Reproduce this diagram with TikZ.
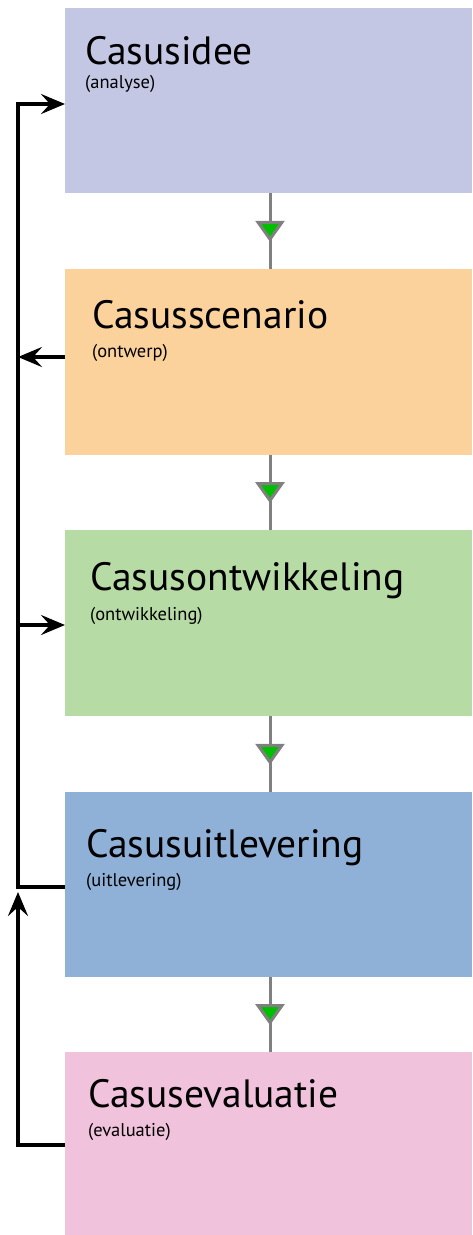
\documentclass[tikz,border=0pt]{standalone}
\usepackage{fontspec}
\setmainfont{PT Sans}
\usetikzlibrary{arrows.meta,decorations.markings}
\definecolor{cA}{RGB}{195,199,227}
\definecolor{cB}{RGB}{252,210,156}
\definecolor{cC}{RGB}{183,219,164}
\definecolor{cD}{RGB}{143,176,215}
\definecolor{cE}{RGB}{240,194,220}
\definecolor{lgray}{RGB}{128,128,128}
\definecolor{tgreen}{RGB}{0,190,0}
\tikzset{
  box/.style={rectangle, draw=none, fill=#1, anchor=north west, minimum width=407pt, inner sep=0pt},
  ttl/.style={anchor=base west, inner sep=0pt, font=\fontsize{39.5}{44}\selectfont},
  sub/.style={anchor=base west, inner sep=0pt, font=\fontsize{18.5}{21}\selectfont},
  flow/.style={draw=lgray, line width=3pt, postaction={decorate},
    decoration={markings, mark=at position 0.64 with {\arrow[line width=3pt]{Triangle[width=29pt,length=21pt,fill=tgreen]}}}},
  blk/.style={draw=black, line width=3.5pt},
  tip/.style={-{Stealth[length=24pt,width=20pt,inset=9pt]}},
}
\begin{document}
\begin{tikzpicture}[x=1pt,y=-1pt]
\path[use as bounding box] (0,0) rectangle (472,1235);
% boxes
\node[box=cA, minimum height=185pt] (b1) at (65,8) {};
\node[box=cB, minimum height=186pt] (b2) at (65,269) {};
\node[box=cC, minimum height=186pt] (b3) at (65,530) {};
\node[box=cD, minimum height=185pt] (b4) at (65,792) {};
\node[box=cE, minimum height=183pt] (b5) at (65,1052) {};
% texts
\node[ttl] (t1) at (85,64) {Casusidee};
\node[sub] (s1) at (85,88) {(analyse)};
\node[ttl] (t2) at (92,328) {Casusscenario};
\node[sub] (s2) at (92,357) {(ontwerp)};
\node[ttl] (t3) at (90,590) {Casusontwikkeling};
\node[sub] (s3) at (90,620) {(ontwikkeling)};
\node[ttl] (t4) at (86,857) {Casusuitlevering};
\node[sub] (s4) at (86,886) {(uitlevering)};
\node[ttl] (t5) at (88,1107) {Casusevaluatie};
\node[sub] (s5) at (88,1136) {(evaluatie)};
% flow connectors
\coordinate (gx) at (270,0);
\draw[flow] (b1.south -| gx) -- (b2.north -| gx);
\draw[flow] (b2.south -| gx) -- (b3.north -| gx);
\draw[flow] (b3.south -| gx) -- (b4.north -| gx);
\draw[flow] (b4.south -| gx) -- (b5.north -| gx);
% feedback lines
\coordinate (a1) at (18,104);
\coordinate (a2) at (18,357);
\coordinate (a3) at (18,625);
\coordinate (a4) at (18,887);
\coordinate (a4t) at (18,892);
\coordinate (a5) at (18,1145);
\draw[blk, tip] (b5.west |- a5) -- (a5) -- (a4t);
\draw[blk, tip, line join=miter] (b4.west |- a4) -- (a4) -- (a1) -- (b1.west |- a1);
\draw[blk, tip] (b2.west |- a2) -- (a2);
\draw[blk, tip] (a3) -- (b3.west |- a3);
\end{tikzpicture}
\end{document}
